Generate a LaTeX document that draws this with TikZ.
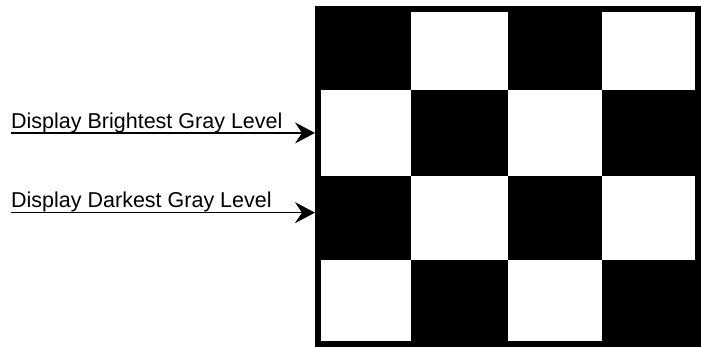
\documentclass[tikz,border=0pt]{standalone}
\usepackage{fontspec}
\setmainfont{Liberation Sans}
\usetikzlibrary{arrows.meta}

\begin{document}
\begin{tikzpicture}[x=1pt,y=-1pt,>={Stealth[length=20pt,width=21pt,inset=7pt]},
  lbl/.style={anchor=base west,inner sep=0pt,font=\fontsize{21.5}{26}\selectfont},
  pointer/.style={->,line width=1.6pt},
  frame/.style={draw,line width=6pt,minimum width=380pt,minimum height=335pt,inner sep=0pt}]
\useasboundingbox (0,0) rectangle (701,347);
% black squares of the board
\foreach \xa/\ya/\xb/\yb in {321/12/411/90, 508/12/602/90,
    411/90/508/176, 602/90/695/176,
    321/176/411/260, 508/176/602/260,
    411/260/508/341, 602/260/695/341}
  \fill[black] (\xa,\ya) rectangle (\xb,\yb);
\node[frame] (board) at (508,176.5) {};
\node[lbl] (bright) at (11,128.3) {Display Brightest Gray Level};
\node[lbl] (dark) at (11,208) {Display Darkest Gray Level};
\draw[pointer] (bright.south west) -- (bright.south west -| board.west);
\draw[pointer] (dark.south west) -- (dark.south west -| board.west);
\end{tikzpicture}
\end{document}
